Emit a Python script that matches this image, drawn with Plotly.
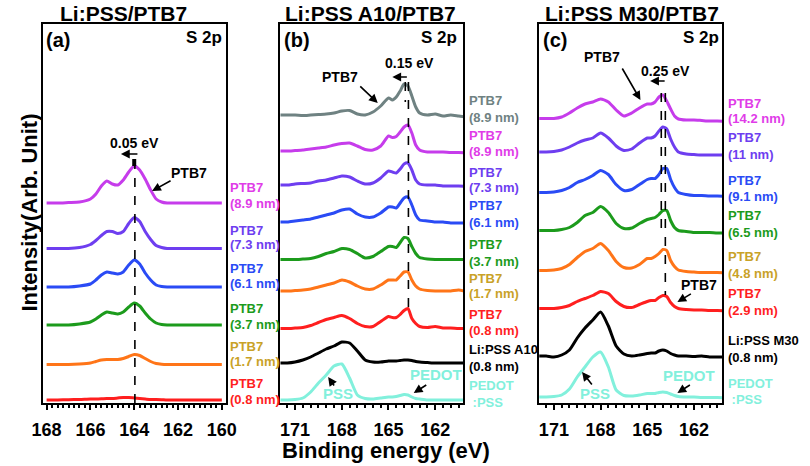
import plotly.graph_objects as go

W, H = 810, 466

# ---------------- data ----------------
energy_a = [168, 167.5, 167, 166.5, 166, 165.75, 165.5, 165.25, 165, 164.75, 164.5, 164.25,
            164, 163.75, 163.5, 163.25, 163, 162.75, 162.5, 162, 161.5, 161, 160.5, 160]
a_89 = [0, 0, 0.5, 1, 4, 9, 17, 22, 19, 18, 23, 31, 37, 33, 24, 13, 4, 1, 0, 0, 0, 0, 0, 0]
a_73 = [0, 0, 0, 1, 4, 8, 13, 17, 17, 15, 17, 25, 31, 27, 17, 9, 3, 1, 0, 0, 0, 0, 0, 0]
a_61 = [0, 0, 0, 1, 3, 7, 12, 15, 14, 13, 15, 22, 27, 23, 14, 7, 2, 0.5, 0, 0, 0, 0, 0, 0]
a_37 = [0, 0, 0, 1, 3, 6, 10, 13, 12, 11, 13, 18, 22, 19, 12, 6, 2, 0.5, 0, 0, 0, 0, 0, 0]
a_17 = [0, 0, 0, 0.5, 1.5, 3, 4.5, 5, 5, 5, 6, 8, 10, 9, 6, 3, 1, 0.3, 0, 0, 0, 0, 0, 0]
a_08 = [0, 0, 0.3, 0.5, 1, 1, 1.2, 1.5, 1.5, 2, 2.5, 2.5, 2, 1.5, 1, 0.5, 0.5, 0.3, 0, 0, 0, 0, 0, 0]

energy_bc = [172, 171.5, 171, 170.5, 170, 169.5, 169, 168.5, 168, 167.5, 167, 166.5, 166, 165.5,
             165, 164.75, 164.5, 164.25, 164, 163.75, 163.5, 163.25, 163, 162.5, 162, 161.5, 161, 160.5, 160]
b_89g = [1, 1, 1, 0.5, 1, 1.5, 2, 3, 5, 5.5, 2, 1, 4, 10, 18, 16, 19, 25, 32, 30, 20, 9, 3, 1, 2, 0, 1, 0, -1]
b_89 = [0, 0, 0.5, 1, 2, 3, 4, 6, 7.5, 8, 5, 1.5, 1, 5, 15, 13.5, 14.5, 19, 24, 26, 18, 6, 1, -1, -1, -1, -1.5, -1.5, -2]
b_73 = [0, 0, 1, 1.5, 2, 4, 5, 7, 9, 8, 4, 1, 2, 7, 14, 13, 12, 16, 21, 22, 15, 5, 1, 0, 0, -1, -1, -1, -1.5]
b_61 = [0, 0, 1, 2, 3, 5, 7, 9, 12, 13, 8, 5, 5, 9, 15, 15, 14, 19, 24, 25, 17, 7, 2, 1, 0, 0, -1, -1, -1]
b_37 = [0, 0, 0, 0.5, 1, 3, 6, 8, 11, 10, 6, 1.5, 3, 8, 13, 13, 12, 17, 22, 21, 13, 6, 2, 0.5, 0, 0, 0, 0, 0]
b_17 = [0, 0, 0.5, 1, 2, 4, 6, 8, 11, 9, 5, 2, 2, 6, 11, 11, 11, 15, 19, 19, 11, 5, 2, 0.5, 0, 0, 0, 1, -0.5]
b_08 = [0, 0, 0.5, 1, 3, 6, 9, 11, 13, 10, 5, 2, 2, 7, 12, 11, 11, 14, 18, 20, 10, 5, 2, 1, 2, 0.5, 0.5, 0, 0]
b_lipss = [0, 0, 1, 3, 6, 10, 14, 17, 21, 20, 12, 3, 1, 1, 2, 2, 2, 2.5, 3, 3, 2.5, 1.5, 1, 0.5, 0, 0, 0, 0, 0]
b_pedot = [0, 0, 0.5, 2, 8, 17, 25, 34, 36, 22, 5, 1.5, 1, 2, 3, 3, 3.5, 4.5, 5.5, 5, 3, 1.5, 1, 0, 0, 0, 0, 0, 0]

c_142 = [0.5, 0.5, 0.5, 2, 6, 11, 15, 17, 20, 17, 9, 3, 6, 11, 15, 15, 17, 22, 24, 18, 10, 3, 0, -1, -1, -1.5, -2, -2, -2.5]
c_11 = [0, 0, 0.5, 2, 5, 9, 12, 14, 19, 14, 6, 1.5, 3, 9, 14, 14, 16, 21, 25, 23, 13, 5, 0, -2, -2.5, -3, -3, -3, -3]
c_91 = [0, 0, 0.5, 2, 5, 10, 13, 17, 22, 18, 8, 2, 3, 8, 13, 14, 14, 18, 24, 24, 13, 5, 0, -2, -3, -3, -3.5, -3.5, -4]
c_65 = [0, 0, 0, 1, 3, 8, 15, 18, 24, 18, 7, 2, 2.5, 7, 11, 12, 13, 16, 20, 20, 10, 3, 0, -1, -2, -2, -2, -2.5, -2.5]
c_48 = [0, 0, 0.5, 2, 6, 13, 19, 22, 27, 20, 9, 3, 2.5, 6, 12, 12, 14, 17, 21, 20, 10, 4, 0.5, -1, -1.5, -2, -2, -2, -2.5]
c_29 = [0, 0, 0, 1, 3, 7, 10, 13, 17, 15, 7, 2, 1, 4, 7, 8, 8, 11, 13, 12, 6, 2, 0, -1, -1.5, -1.5, -2, -2, -2.5]
c_lipss = [0, 0, -1, 1, 6, 18, 28, 36, 44, 30, 10, 2, 0, 1, 2.5, 3, 3, 5, 6, 5, 2.5, 1, 0, 0, -0.5, 0, -1, -1, -1]
c_pedot = [0, 0, 0.5, 2, 8, 20, 30, 40, 45, 30, 7, 1.5, 1, 2, 3.5, 3.5, 3.5, 4.5, 5, 4.5, 3, 1.5, 0.5, 0, 0, -0.5, -0.5, -0.5, -1]

# stacking offsets (arb. units)
offsets_a = [200, 154.5, 116, 78, 38.5, 3]
offsets_b = [287, 252, 218, 181, 143.5, 112, 74.5, 40, 3]
offsets_c = [284, 251, 210.5, 172.5, 132.5, 94.5, 47, 6]

MAG, VIO, BLU, GRN, ORG, RED, GRY, BLK, CYN = (
    "#C63CEB", "#6E3EF0", "#2A4BF5", "#1C9B1C", "#FF7518", "#FF1F1F", "#6F8282", "#000000", "#82F0DC")
L_MAG, L_GOLD = "#E03CE8", "#C9A227"

panel_a = [(a_89, MAG), (a_73, VIO), (a_61, BLU), (a_37, GRN), (a_17, ORG), (a_08, RED)]
panel_b = [(b_89g, GRY), (b_89, MAG), (b_73, VIO), (b_61, BLU), (b_37, GRN), (b_17, ORG),
           (b_08, RED), (b_lipss, BLK), (b_pedot, CYN)]
panel_c = [(c_142, MAG), (c_11, VIO), (c_91, BLU), (c_65, GRN), (c_48, ORG), (c_29, RED),
           (c_lipss, BLK), (c_pedot, CYN)]

labels_a = [("PTB7", "(8.9 nm)", L_MAG), ("PTB7", "(7.3 nm)", VIO), ("PTB7", "(6.1 nm)", BLU),
            ("PTB7", "(3.7 nm)", GRN), ("PTB7", "(1.7 nm)", L_GOLD), ("PTB7", "(0.8 nm)", RED)]
labels_b = [("PTB7", "(8.9 nm)", GRY), ("PTB7", "(8.9 nm)", L_MAG), ("PTB7", "(7.3 nm)", VIO),
            ("PTB7", "(6.1 nm)", BLU), ("PTB7", "(3.7 nm)", GRN), ("PTB7", "(1.7 nm)", L_GOLD),
            ("PTB7", "(0.8 nm)", RED), ("Li:PSS A10", "(0.8 nm)", BLK), ("PEDOT", " :PSS", CYN)]
labels_c = [("PTB7", "(14.2 nm)", L_MAG), ("PTB7", "(11 nm)", VIO), ("PTB7", "(9.1 nm)", BLU),
            ("PTB7", "(6.5 nm)", GRN), ("PTB7", "(4.8 nm)", L_GOLD), ("PTB7", "(2.9 nm)", RED),
            ("Li:PSS M30", "(0.8 nm)", BLK), ("PEDOT", " :PSS", CYN)]
# label line positions (pixel rows)
label_rows_a = [(188, 203), (230, 244), (268, 283), (308, 324), (346, 361), (383, 399)]
label_rows_b = [(100, 117), (135, 152), (172, 187), (205, 222), (244, 261), (278, 293),
                (314, 330), (349, 366), (385, 402)]
label_rows_c = [(103, 118), (137, 154), (180, 196), (215, 232), (256, 273), (293, 310),
                (340, 357), (383, 399)]

panel_titles = ["Li:PSS/PTB7", "Li:PSS A10/PTB7", "Li:PSS M30/PTB7"]
shifts = ["0.05 eV", "0.15 eV", "0.25 eV"]

# ---------------- layout helpers ----------------
def px(x):
    return x / W

def py(y):
    return 1 - y / H

FONT = "Liberation Sans, Arial, sans-serif"
YTOP, YBOT = 24, 403
ydom = [1 - YBOT / H, 1 - YTOP / H]
yrange = [0, YBOT - YTOP]

fig = go.Figure()

def add_panel(curves, energy, offsets, xa, ya):
    for (vals, col), off in zip(curves, offsets):
        fig.add_trace(go.Scatter(
            x=energy, y=[v + off for v in vals], mode="lines",
            line=dict(color=col, width=3, shape="spline", smoothing=0.6),
            xaxis=xa, yaxis=ya, showlegend=False, hoverinfo="skip"))

add_panel(panel_a, energy_a, offsets_a, "x", "y")
add_panel(panel_b, energy_bc, offsets_b, "x2", "y2")
add_panel(panel_c, energy_bc, offsets_c, "x3", "y3")

def xaxis_cfg(dom, rng, tickvals, minor_dt, anchor):
    return dict(domain=[px(dom[0]), px(dom[1])], range=rng, anchor=anchor,
                tickvals=tickvals, ticks="outside", ticklen=5, tickwidth=2, tickcolor="black",
                minor=dict(dtick=minor_dt, tick0=160, ticks="outside", ticklen=3,
                           tickwidth=1.5, tickcolor="black"),
                showline=True, mirror=True, linecolor="black", linewidth=2,
                showgrid=False, zeroline=False, ticklabelstandoff=4,
                tickfont=dict(family=FONT, size=18, color="black", weight="bold"))

def yaxis_cfg(anchor):
    return dict(domain=ydom, range=yrange, anchor=anchor, showticklabels=False, ticks="",
                showline=True, mirror=True, linecolor="black", linewidth=2,
                showgrid=False, zeroline=False)

fig.update_layout(
    width=W, height=H, margin=dict(l=0, r=0, t=0, b=0),
    paper_bgcolor="white", plot_bgcolor="white", showlegend=False,
    xaxis=xaxis_cfg((33, 221), [168.16, 159.81], [168, 166, 164, 162, 160], 0.25, "y"),
    xaxis2=xaxis_cfg((277, 465), [171.94, 160.19], [171, 168, 165, 162], 0.5, "y2"),
    xaxis3=xaxis_cfg((543, 731), [171.94, 160.19], [171, 168, 165, 162], 0.5, "y3"),
    yaxis=yaxis_cfg("x"), yaxis2=yaxis_cfg("x2"), yaxis3=yaxis_cfg("x3"),
)

# dashed guide lines (data units: energy, pixel rows converted)
def vline(xref, yref, x, top_px, bot_px, dash="dash", width=1.6):
    fig.add_shape(type="line", xref=xref, yref=yref, x0=x, x1=x,
                  y0=YBOT - top_px, y1=YBOT - bot_px,
                  line=dict(color="black", width=width, dash=dash))

vline("x", "y", 163.97, 160, 403)
vline("x", "y", 164.0, 159, 166, dash="solid", width=4)
vline("x2", "y2", 163.72, 82, 308)
vline("x2", "y2", 163.92, 82, 102)
vline("x3", "y3", 163.84, 93, 295)
vline("x3", "y3", 164.10, 93, 237)

ann = []

def text(x, y, s, size, color="black", xanchor="center", angle=0):
    ann.append(dict(x=px(x), y=py(y), xref="paper", yref="paper", text=s, showarrow=False,
                    xanchor=xanchor, yanchor="middle", textangle=angle,
                    font=dict(family=FONT, size=size, color=color, weight="bold")))

def arrow(tip, tail, color="black"):
    ann.append(dict(x=px(tip[0]), y=py(tip[1]), xref="paper", yref="paper", text="",
                    showarrow=True, ax=tail[0] - tip[0], ay=tail[1] - tip[1],
                    arrowhead=2, arrowsize=1.1, arrowwidth=1.6, arrowcolor=color,
                    standoff=0, startstandoff=0))

# panel titles & axis titles
text(116, 13, panel_titles[0], 21)
text(370, 13, panel_titles[1], 21)
text(638, 13, panel_titles[2], 21)
text(385, 450, "Binding energy (eV)", 22)
text(18, 213, "Intensity(Arb. Unit)", 22, angle=-90)

# panel letters and S 2p
for (lx, sx), letter in zip([(48, 198), (294, 440), (559, 709)], ["(a)", "(b)", "(c)"]):
    text(lx, 40, letter, 20)
    text(sx, 38, "S 2p", 17)

# panel a annotations
text(127, 143, shifts[0], 14)
arrow((113, 154), (131, 154))
text(183, 173, "PTB7", 14)
arrow((145, 191), (165, 180))

# panel b annotations
text(338, 77, "PTB7", 14)
arrow((377, 103), (358, 85))
text(410, 63, shifts[1], 14)
arrow((392, 77), (408, 77))
text(336, 393, "PSS", 15, CYN)
arrow((326, 377), (333, 387))
text(437, 374, "PEDOT", 15, CYN)
arrow((414, 393), (428, 384))

# panel c annotations
text(608, 57, "PTB7", 14)
arrow((647, 100), (628, 67))
text(673, 71, shifts[2], 14)
arrow((657, 81), (673, 81))
text(707, 285, "PTB7", 14)
arrow((685, 302), (700, 293))
text(600, 393, "PSS", 15, CYN)
arrow((587, 372), (598, 386))
text(697, 375, "PEDOT", 15, CYN)
arrow((685, 393), (699, 384))

# side labels
for labels, rows, x0 in [(labels_a, label_rows_a, 223), (labels_b, label_rows_b, 469),
                         (labels_c, label_rows_c, 735)]:
    for (l1, l2, col), (r1, r2) in zip(labels, rows):
        text(x0, r1, l1, 13, col, xanchor="left")
        text(x0, r2, l2, 13, col, xanchor="left")

fig.update_layout(annotations=ann)
fig.write_html("out.html")
